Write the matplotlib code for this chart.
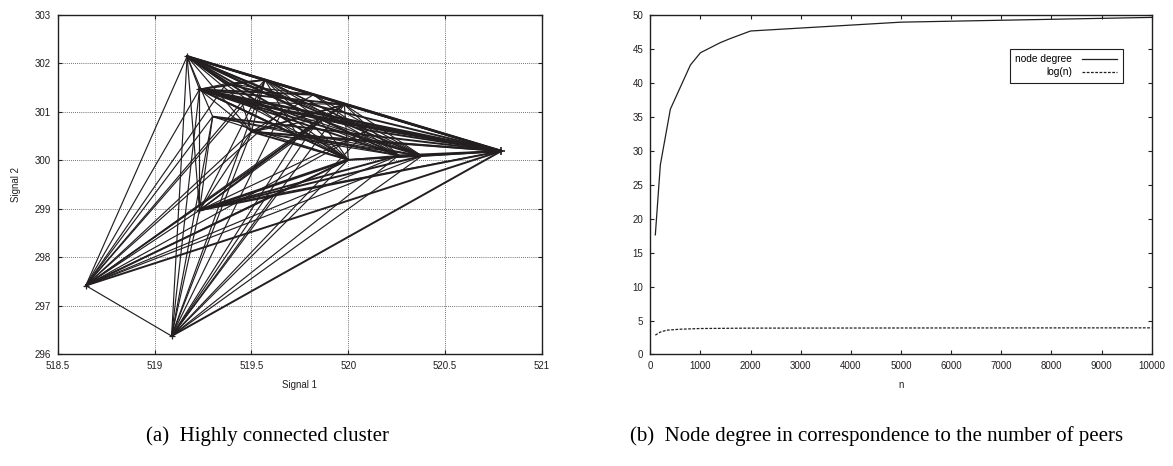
#!/usr/bin/env python3
"""Cluster connectivity graph and node degree vs. number of peers."""

import matplotlib

matplotlib.use("Agg")
import matplotlib.pyplot as plt

# (a) node positions in signal space
node_x = [518.645, 519.088, 519.168, 519.232, 519.232, 520.79, 520.00, 520.38,
          520.26, 519.50, 519.57, 519.37, 519.98, 519.74, 519.62, 519.85, 519.45,
          519.66, 519.82, 520.10, 519.30]
node_y = [297.42, 296.38, 302.14, 301.46, 298.97, 300.19, 300.01, 300.09,
          300.10, 300.59, 301.66, 301.58, 301.15, 300.50, 299.30, 300.85, 301.20,
          301.02, 301.35, 300.62, 300.90]

# links between nodes (source, target, multiplicity)
edge_src = [0, 0, 0, 0, 0, 0, 0, 0, 0, 0, 0, 0, 0, 0, 0, 0,
            1, 1, 1, 1, 1, 1, 1, 1, 1, 1, 1, 1, 1,
            2, 2, 2, 2, 2, 2, 2, 2, 2, 2, 2, 2, 2,
            3, 3, 3, 3, 3, 3, 3, 3, 3, 3, 3, 3,
            4, 4, 4, 4, 4, 4, 4, 4, 4, 4,
            5, 5, 5, 5, 5, 5, 5, 5, 5, 5, 5,
            6, 6, 6, 6, 6, 6, 6, 6, 6,
            7, 7, 7, 7, 7, 7,
            8, 8, 8, 8, 8,
            9, 9, 9, 9, 9,
            10, 10, 10, 10,
            12, 12, 12,
            13,
            17, 17, 17, 17, 17, 17, 17, 17,
            18, 18, 18, 18, 18, 18, 18,
            19, 19, 19, 19, 19, 19, 19,
            20, 20, 20, 20, 20, 20, 20, 20]
edge_dst = [1, 2, 3, 4, 5, 6, 7, 8, 9, 10, 11, 12, 13, 14, 15, 16,
            4, 2, 3, 5, 6, 7, 8, 9, 10, 12, 13, 14, 15,
            3, 4, 5, 6, 7, 8, 9, 10, 11, 12, 13, 15, 16,
            4, 5, 6, 7, 8, 9, 10, 11, 12, 13, 15, 16,
            5, 6, 7, 8, 9, 10, 12, 13, 14, 15,
            6, 7, 8, 9, 10, 11, 12, 13, 14, 15, 16,
            7, 8, 9, 10, 12, 13, 14, 15, 16,
            8, 9, 10, 12, 13, 15,
            9, 10, 12, 13, 15,
            10, 12, 13, 15, 16,
            11, 12, 13, 15,
            13, 15, 16,
            15,
            5, 2, 3, 7, 8, 0, 1, 6,
            5, 2, 3, 8, 7, 9, 11,
            5, 2, 3, 4, 0, 1, 10,
            5, 6, 7, 4, 0, 1, 2, 8]
edge_count = [1, 1, 1, 1, 2, 2, 1, 1, 1, 1, 1, 1, 1, 1, 1, 1,
              1, 1, 1, 2, 1, 1, 1, 1, 1, 1, 1, 1, 1,
              1, 1, 3, 2, 2, 2, 1, 2, 2, 2, 1, 2, 1,
              1, 3, 2, 2, 2, 1, 2, 1, 2, 2, 2, 1,
              2, 3, 2, 2, 1, 1, 1, 1, 1, 1,
              2, 2, 2, 2, 2, 2, 2, 2, 1, 2, 2,
              1, 1, 2, 1, 1, 1, 1, 1, 1,
              1, 1, 1, 1, 1, 1,
              1, 1, 1, 1, 1,
              1, 2, 1, 1, 1,
              1, 1, 1, 1,
              1, 1, 1,
              1,
              2, 2, 2, 1, 1, 1, 1, 1,
              2, 2, 2, 1, 1, 1, 1,
              2, 1, 1, 1, 1, 1, 1,
              2, 1, 1, 1, 1, 1, 1, 1]

# (b) node degree and log(n) against number of peers
n_degree = [100, 200, 400, 800, 1000, 1400, 1600, 2000, 5000, 10000]
node_degree = [17.6, 27.9, 36.1, 42.6, 44.4, 45.9, 46.5, 47.6, 48.9, 49.6]
n_log = [100, 200, 330, 600, 1000, 2000, 5000, 10000]
log_n = [2.85, 3.3, 3.58, 3.72, 3.82, 3.88, 3.9, 3.92]

INK = "#231f20"

plt.rcParams["font.family"] = ["Liberation Sans", "DejaVu Sans"]
plt.rcParams["font.size"] = 7

fig = plt.figure(figsize=(11.73, 4.66), dpi=100)
ax_a = fig.add_axes([0.0492, 0.2393, 0.4128, 0.7292])
ax_b = fig.add_axes([0.5544, 0.2393, 0.4274, 0.7292])

for s, d, c in zip(edge_src, edge_dst, edge_count):
    ax_a.plot([node_x[s], node_x[d]], [node_y[s], node_y[d]],
              color=INK, linewidth=0.85 + 0.55 * (c - 1), solid_capstyle="round")
ax_a.plot(node_x[:5], node_y[:5], linestyle="none", marker="+", markersize=4,
          color=INK, markeredgewidth=0.9)
ax_a.plot(node_x[5], node_y[5], linestyle="none", marker="+", markersize=6,
          color=INK, markeredgewidth=1.2)

ax_a.set_xlim(518.5, 521)
ax_a.set_ylim(296, 303)
ax_a.set_xticks([518.5, 519, 519.5, 520, 520.5, 521])
ax_a.set_xticklabels(["518.5", "519", "519.5", "520", "520.5", "521"])
ax_a.set_yticks(range(296, 304))
ax_a.grid(True, color="#444444", linestyle=(0, (1, 1.5)), linewidth=0.6)
ax_a.set_xlabel("Signal 1", labelpad=6)
ax_a.set_ylabel("Signal 2", labelpad=10)

ax_b.plot(n_degree, node_degree, color=INK, linewidth=0.9, label="node degree")
ax_b.plot(n_log, log_n, color=INK, linewidth=0.9, linestyle=(0, (2.2, 1.2)),
          label="log(n)")
ax_b.set_xlim(0, 10000)
ax_b.set_ylim(0, 50)
ax_b.set_xticks(range(0, 10001, 1000))
ax_b.set_yticks(range(0, 51, 5))
ax_b.set_xlabel("n", labelpad=6)
leg = ax_b.legend(loc="upper right", bbox_to_anchor=(0.952, 0.915),
                  markerfirst=False, fancybox=False, edgecolor=INK,
                  framealpha=1, handlelength=3.4, handletextpad=1.0,
                  borderpad=0.55, labelspacing=0.3, fontsize=7.3)
leg.get_frame().set_linewidth(0.8)

for ax in (ax_a, ax_b):
    ax.tick_params(direction="in", length=3, width=0.8, top=True, right=True,
                   colors=INK, labelcolor=INK, pad=5)
    for spine in ax.spines.values():
        spine.set_color(INK)
        spine.set_linewidth(1.0)
    ax.xaxis.label.set_color(INK)
    ax.yaxis.label.set_color(INK)

cap_font = dict(family=["Liberation Serif", "DejaVu Serif"], fontsize=15,
                color="black", ha="center", va="center")
fig.text(0.228, 0.064, "(a)  Highly connected cluster", **cap_font)
fig.text(0.747, 0.064, "(b)  Node degree in correspondence to the number of peers",
         **cap_font)

fig.savefig("out.png", dpi=100)
